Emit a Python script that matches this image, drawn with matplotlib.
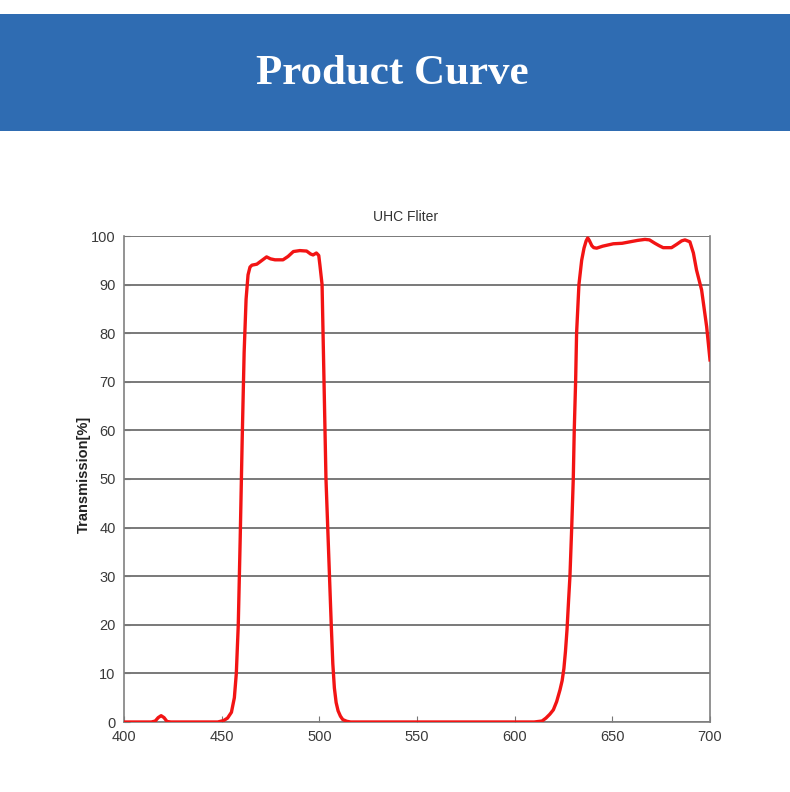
import matplotlib
matplotlib.use("Agg")
import matplotlib.pyplot as plt
from matplotlib.patches import Rectangle

# Data
wavelength = [400, 405, 410, 414, 416, 417.5, 419, 420.5, 422, 424, 430, 440, 448, 451, 453,
              455, 456.5, 457.5, 458.5, 459.5, 460.5, 461.5, 462.5, 463.5, 464.5, 465.5,
              468, 470, 473, 475, 477.3, 481.4, 484, 486.7, 490, 493.5, 495.5, 496.8, 498.5, 499.7,
              500.3, 501.4, 502.4, 503.4, 504.3, 505.2, 506.1, 506.9, 507.7, 508.6, 509.6, 510.8, 512, 514, 516, 520,
              540, 570, 600, 610, 614, 616, 618, 619.8, 621.5, 623.2, 624.3, 625.2, 626.0, 626.8, 627.6, 628.3,
              629.2, 630.0, 630.5, 631.2, 631.7, 632.9, 634.3, 635.5, 636.6, 637.4, 638.2, 639.5, 640.5, 642,
              645, 650.5, 655, 659, 663, 666.7, 669, 671.8, 674, 676, 680.3, 683, 685.5, 687.2, 689.7,
              691.5, 693.1, 695.7, 698.3, 700]
transmission = [0, 0, 0, 0, 0.2, 0.9, 1.3, 0.9, 0.1, 0, 0, 0, 0, 0.3, 0.8,
                2.0, 5, 10, 20, 38, 58, 76, 87, 92, 93.6, 94.0,
                94.2, 94.8, 95.7, 95.3, 95.1, 95.1, 95.8, 96.8, 97.0, 96.9, 96.3, 96.1, 96.5, 96.0,
                94, 90, 70, 50, 40, 30, 20, 12, 7, 4, 2.3, 1.2, 0.5, 0.15, 0, 0,
                0, 0, 0, 0, 0.2, 0.8, 1.6, 2.5, 4.2, 6.6, 8.5, 11, 14.5, 19, 25, 30,
                40, 50, 60, 70, 80, 90, 95, 97.5, 99, 99.6, 99.1, 98.0, 97.6, 97.5,
                97.9, 98.4, 98.5, 98.8, 99.1, 99.3, 99.2, 98.5, 98.0, 97.6, 97.6, 98.3, 99.0, 99.2, 98.8,
                96.5, 93, 88.9, 81.3, 74.5]
x_ticks = [400, 450, 500, 550, 600, 650, 700]
y_ticks = [0, 10, 20, 30, 40, 50, 60, 70, 80, 90, 100]

plt.rcParams["font.family"] = ["Liberation Sans", "DejaVu Sans"]

fig = plt.figure(figsize=(7.9, 7.92), dpi=100)

# Banner
banner = Rectangle((0, 1 - 131 / 792), 1, (131 - 14) / 792, transform=fig.transFigure,
                   facecolor="#2f6cb2", edgecolor="none", zorder=0)
fig.patches.append(banner)
fig.text(0.497, 1 - 74 / 792, "Product Curve", color="white", fontsize=31,
         fontweight="bold", family="Liberation Serif", ha="center", va="center")

ax = fig.add_axes([124 / 790, 1 - 722 / 792, (710 - 124) / 790, (722 - 236) / 792])
ax.plot(wavelength, transmission, color="#f21414", linewidth=2.4, solid_joinstyle="round", zorder=3)

ax.set_xlim(400, 700)
ax.set_ylim(0, 100)
ax.set_xticks(x_ticks)
ax.set_yticks(y_ticks)
ax.yaxis.grid(True, color="#6e6e6e", linewidth=1.3)
ax.set_axisbelow(True)
ax.tick_params(direction="in", length=4, colors="#777777", labelcolor="#3a3a3a", labelsize=10.5, pad=6)
for s in ax.spines.values():
    s.set_color("#808080")
    s.set_linewidth(1.2)
ax.spines["top"].set_visible(False)

ax.set_title("UHC Fliter", fontsize=10, color="#333333", pad=11, x=0.48)
ax.set_ylabel("Transmission[%]", fontsize=10.5, fontweight="bold", color="#222222", labelpad=3)
ax.yaxis.set_label_coords(-0.056, 0.51)

fig.savefig("out.png", dpi=100)
